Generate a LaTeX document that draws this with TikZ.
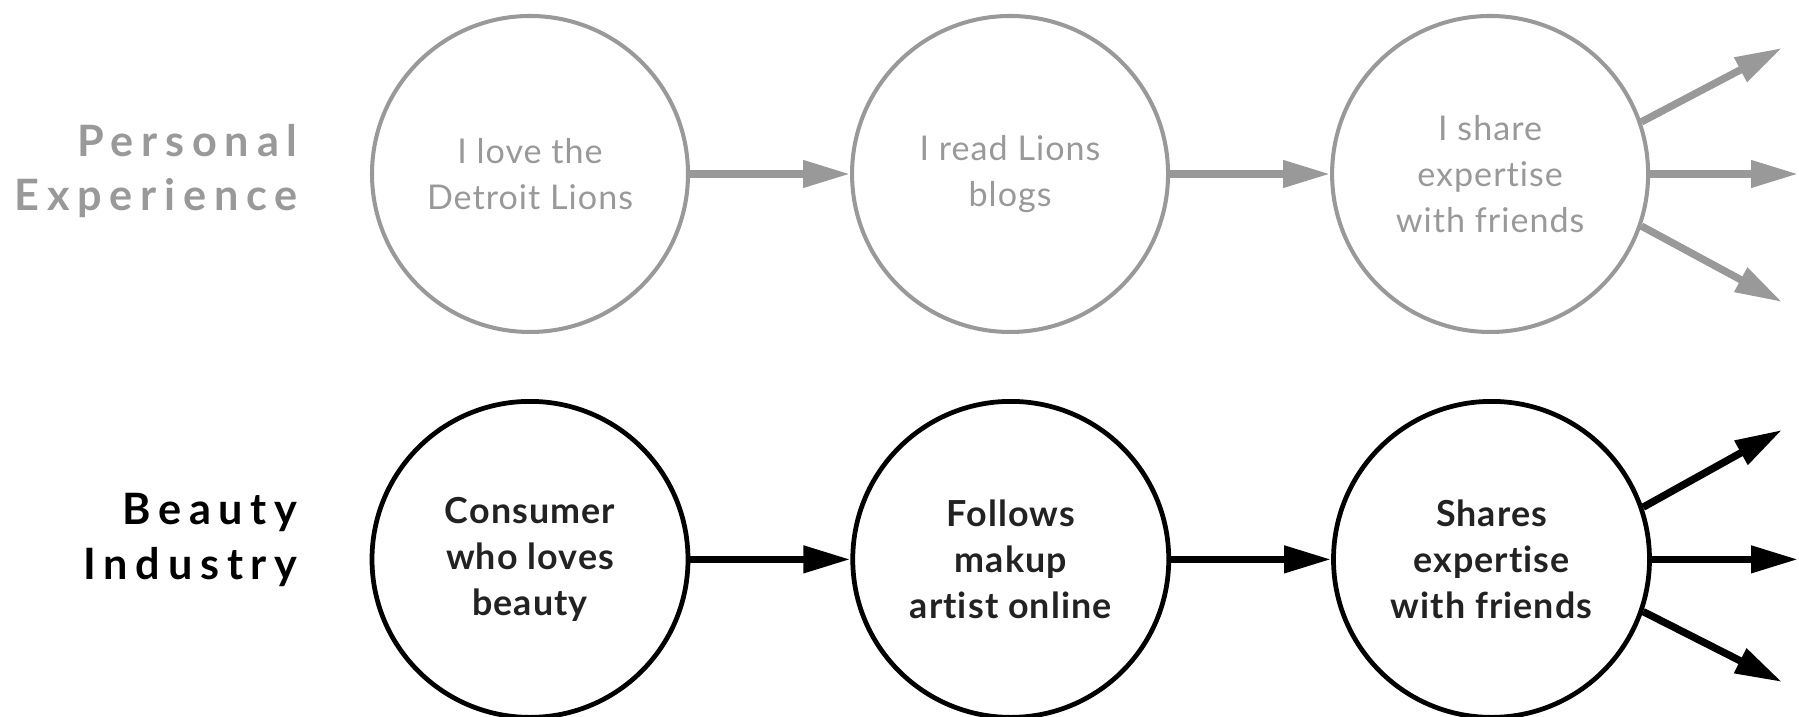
\documentclass[tikz,border=0pt]{standalone}
\usepackage{fontspec}
\setmainfont{Lato}
\newfontfamily\rowfont[LetterSpace=18]{Lato}
\newfontfamily\circfont[LetterSpace=3, Ligatures=NoCommon]{Lato}
\usetikzlibrary{positioning,arrows.meta}
\definecolor{lightgrey}{HTML}{999999}
\definecolor{darkink}{HTML}{222222}

\begin{document}
\begin{tikzpicture}[
  font=\circfont\fontsize{9.7}{13}\selectfont,
  stage/.style={circle, draw=lightgrey, line width=1.15pt, minimum size=3.16cm,
                inner sep=0pt, align=center, text=lightgrey},
  keystage/.style={stage, draw=black, line width=1.35pt, text=darkink,
                   font=\circfont\bfseries\fontsize{10.2}{13.2}\selectfont},
  rowlabel/.style={anchor=east, align=right,
                   font=\rowfont\bfseries\fontsize{12.3}{15.5}\selectfont},
  arr/.style={-{Triangle[length=4.7mm, width=2.6mm]}, line width=2.1pt, lightgrey},
  keyarr/.style={arr, black},
]
\useasboundingbox (0,0) rectangle (17.99,7.17);

\node[stage] (love) at (5.30,5.43) {I love the\\Detroit Lions};
\node[stage, right=1.6cm of love]  (read)  {I read Lions\\blogs};
\node[stage, right=1.6cm of read]  (share) {I share\\expertise\\with friends};

\node[keystage, below=0.65cm of love]  (consumer) {Consumer\\who loves\\beauty};
\node[keystage, right=1.6cm of consumer] (follows) {Follows\\makup\\artist online};
\node[keystage, right=1.6cm of follows]  (shares)  {Shares\\expertise\\with friends};

\node[rowlabel, text=lightgrey] (personal) at (3.10,5.46) {Personal\\Experience};
\node[rowlabel, text=black]     (beauty)   at (3.10,1.77) {Beauty\\Industry};

\coordinate (edge) at (17.98,0);
\coordinate (shareup)  at (17.82,6.69);
\coordinate (sharedn)  at (17.82,4.15);
\coordinate (sharesup)  at (17.82,2.87);
\coordinate (sharesdn)  at (17.82,0.35);

\draw[arr] (love) -- (read);
\draw[arr] (read) -- (share);
\draw[arr] (share.19)  -- (shareup);
\draw[arr] (share)     -- (share -| edge);
\draw[arr] (share.-19) -- (sharedn);

\draw[keyarr] (consumer) -- (follows);
\draw[keyarr] (follows) -- (shares);
\draw[keyarr] (shares.19)  -- (sharesup);
\draw[keyarr] (shares)     -- (shares -| edge);
\draw[keyarr] (shares.-19) -- (sharesdn);
\end{tikzpicture}
\end{document}
